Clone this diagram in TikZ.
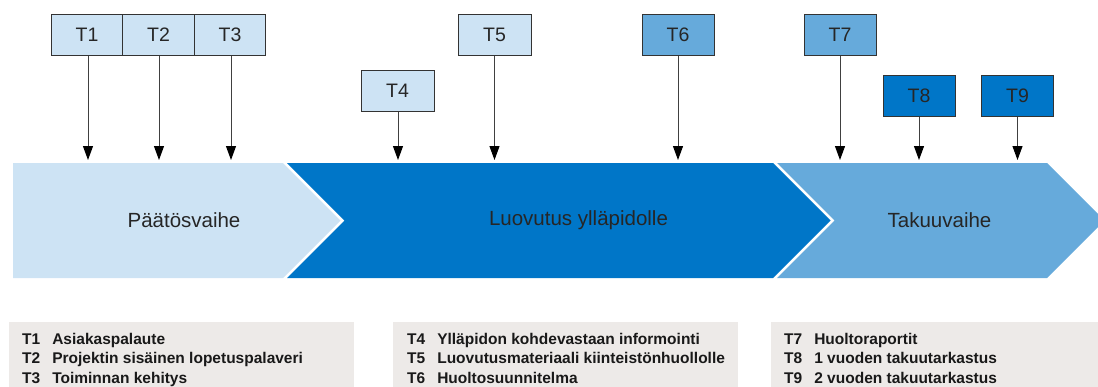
\documentclass[tikz,border=0pt]{standalone}
\usepackage{fontspec}
\setmainfont{Liberation Sans}
\usetikzlibrary{arrows.meta}
\definecolor{lightblue}{HTML}{CDE3F4}
\definecolor{midblue}{HTML}{66AADB}
\definecolor{darkblue}{HTML}{0076C8}
\definecolor{legendgray}{HTML}{EDEAE8}
\definecolor{boxedge}{HTML}{333333}
\tikzset{
  tbox/.style={draw=boxedge, line width=1pt, minimum width=72pt, minimum height=41pt, inner sep=0pt, font=\fontsize{19.5}{22}\selectfont, text=black!85},
  pointer/.style={draw=black!75, line width=1pt, -{Triangle[width=10pt,length=14pt,color=black]}},
  phasetext/.style={font=\fontsize{20.5}{24}\selectfont, text=black!85},
  legend/.style={fill=legendgray, draw=none},
  legendtext/.style={anchor=north west, inner sep=0pt, align=left, font=\fontsize{15.5}{19.5}\selectfont\bfseries, text=black!90}
}
\begin{document}
\begin{tikzpicture}[x=1pt,y=-1pt]
\useasboundingbox (0,0) rectangle (1098,386);
% chevrons
\fill[lightblue] (13,163) -- (283,163) -- (340.5,220.5) -- (283,278) -- (13,278) -- cycle;
\fill[darkblue] (287,163) -- (773,163) -- (830.5,220.5) -- (773,278) -- (287,278) -- (344.5,220.5) -- cycle;
\fill[midblue] (777,163) -- (1047,163) -- (1104.5,220.5) -- (1047,278) -- (777,278) -- (834.5,220.5) -- cycle;
\node[phasetext] (p1) at (184,220) {Päätösvaihe};
\node[phasetext] (p2) at (578.5,220) {Luovutus ylläpidolle};
\node[phasetext] (p3) at (939.5,220) {Takuuvaihe};
% top boxes
\node[tbox, fill=lightblue, minimum width=71.5pt] (t1) at (87,34.5) {T1};
\node[tbox, fill=lightblue, minimum width=71.5pt] (t2) at (158.5,34.5) {T2};
\node[tbox, fill=lightblue, minimum width=71.5pt] (t3) at (230,34.5) {T3};
\node[tbox, fill=lightblue, minimum width=73pt] (t4) at (397.5,91) {T4};
\node[tbox, fill=lightblue, minimum width=73pt] (t5) at (494.5,34.5) {T5};
\node[tbox, fill=midblue] (t6) at (678,34.5) {T6};
\node[tbox, fill=midblue] (t7) at (840,34.5) {T7};
\node[tbox, fill=darkblue] (t8) at (919,95.5) {T8};
\node[tbox, fill=darkblue] (t9) at (1017.5,95.5) {T9};
% arrow ends
\coordinate (e1) at (88,160);
\coordinate (e2) at (159,160);
\coordinate (e3) at (231,160);
\coordinate (e4) at (398,160);
\coordinate (e5) at (494.5,160);
\coordinate (e6) at (678,160);
\coordinate (e7) at (840,160);
\coordinate (e8) at (919,160);
\coordinate (e9) at (1017.5,160);
\draw[pointer] (t1.south -| e1) -- (e1);
\draw[pointer] (t2.south -| e2) -- (e2);
\draw[pointer] (t3.south -| e3) -- (e3);
\draw[pointer] (t4.south -| e4) -- (e4);
\draw[pointer] (t5.south) -- (e5);
\draw[pointer] (t6.south) -- (e6);
\draw[pointer] (t7.south) -- (e7);
\draw[pointer] (t8.south) -- (e8);
\draw[pointer] (t9.south) -- (e9);
% legends
\fill[legend] (9,322) rectangle (354,390);
\fill[legend] (393,322) rectangle (738,390);
\fill[legend] (771,322) rectangle (1100,390);
\node[legendtext] (l1) at (22,330.5) {\begin{tabular}{@{}l@{\hspace{12pt}}l@{}}T1 & Asiakaspalaute\\ T2 & Projektin sisäinen lopetuspalaveri\\ T3 & Toiminnan kehitys\end{tabular}};
\node[legendtext] (l2) at (407,330.5) {\begin{tabular}{@{}l@{\hspace{12pt}}l@{}}T4 & Ylläpidon kohdevastaan informointi\\ T5 & Luovutusmateriaali kiinteistönhuollolle\\ T6 & Huoltosuunnitelma\end{tabular}};
\node[legendtext] (l3) at (784,330.5) {\begin{tabular}{@{}l@{\hspace{12pt}}l@{}}T7 & Huoltoraportit\\ T8 & 1 vuoden takuutarkastus\\ T9 & 2 vuoden takuutarkastus\end{tabular}};
\end{tikzpicture}
\end{document}
